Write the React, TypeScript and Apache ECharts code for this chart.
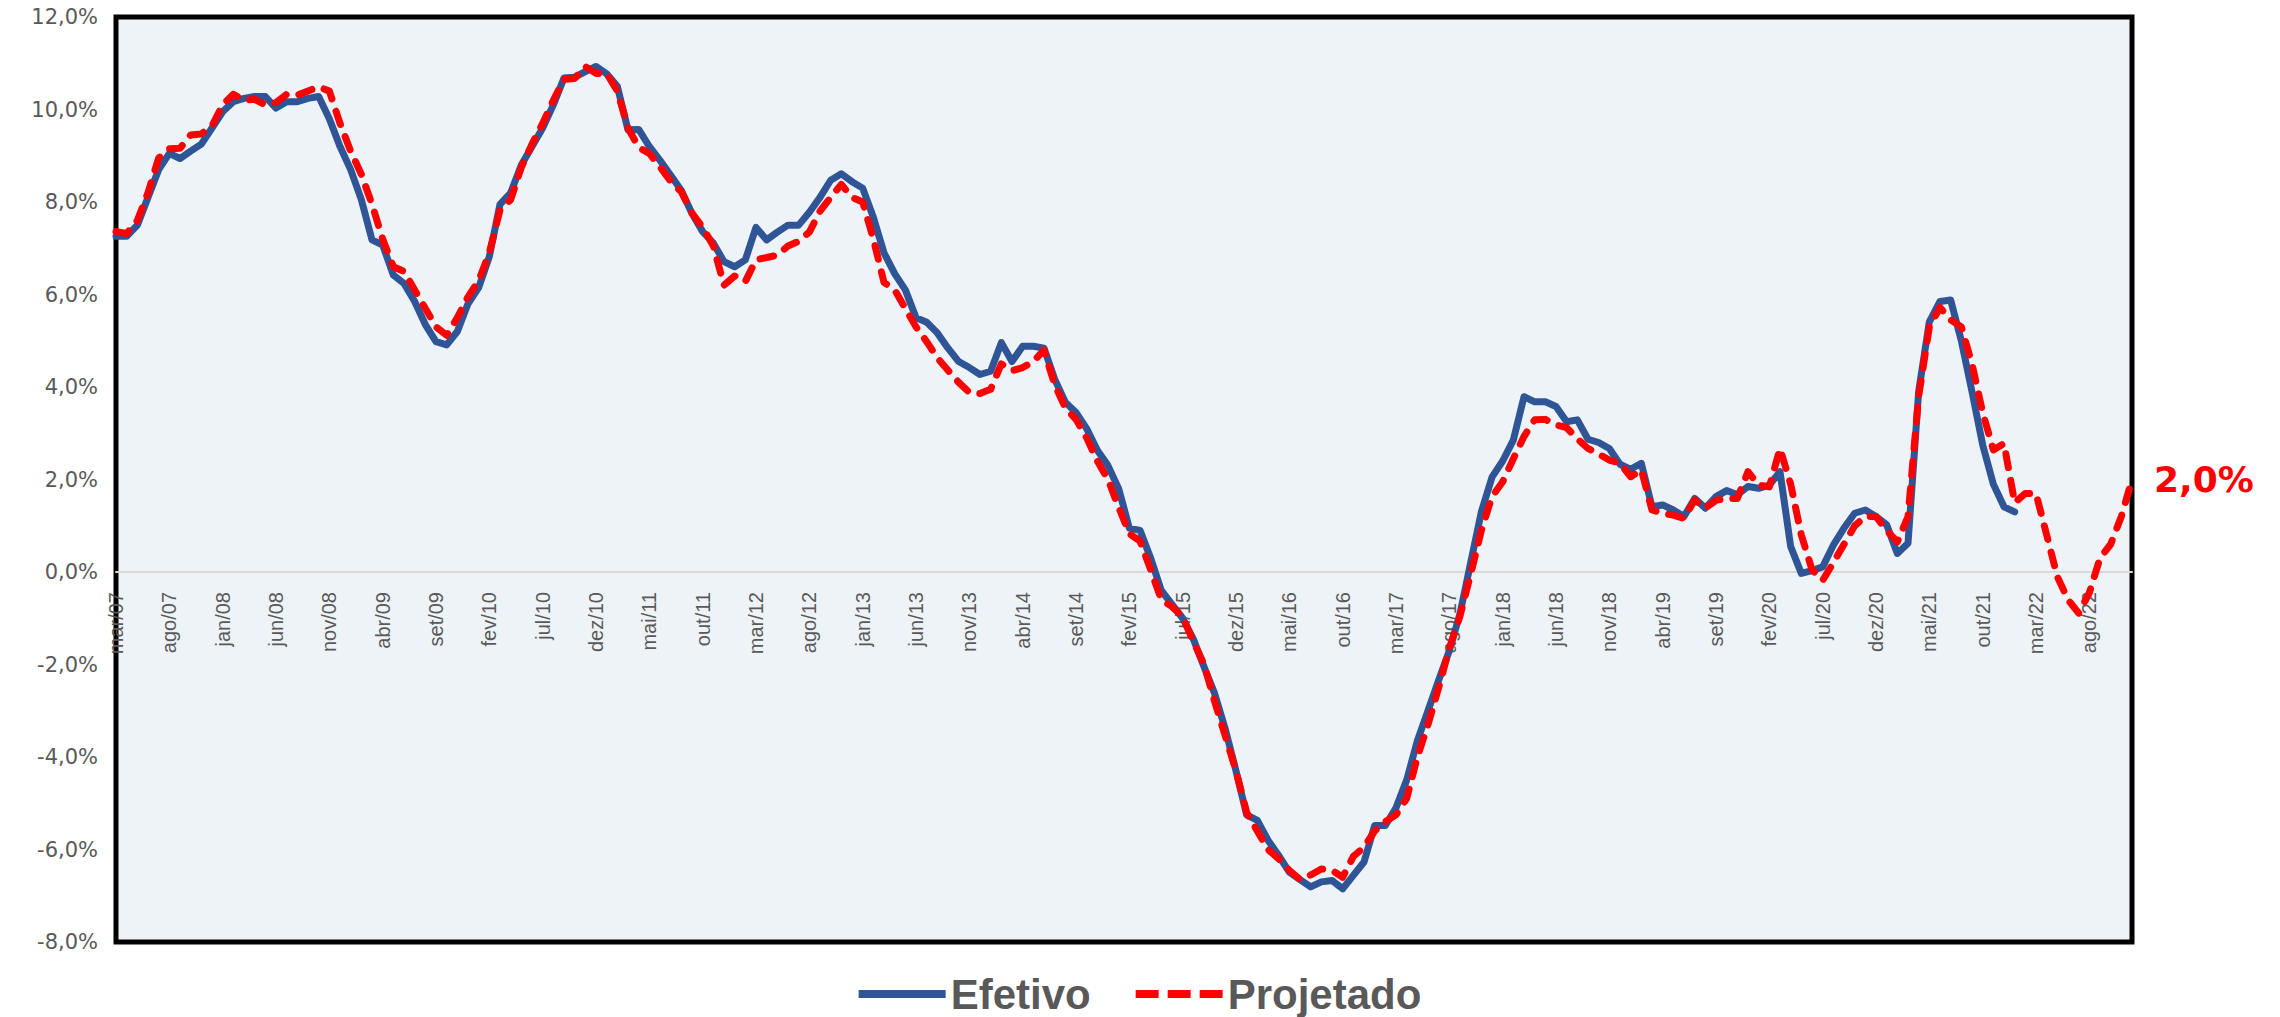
import React, { useEffect, useRef } from "react";
import * as echarts from "echarts";

// Month names (pt-BR) and period: mar/07 .. dez/22
const MONTHS = ["jan", "fev", "mar", "abr", "mai", "jun", "jul", "ago", "set", "out", "nov", "dez"];
const START_YEAR = 2007;
const START_MONTH = 2; // mar
const N_MONTHS = 190;

const categories: string[] = [];
for (let k = 0; k < N_MONTHS; k++) {
  const m = (START_MONTH + k) % 12;
  const y = START_YEAR + Math.floor((START_MONTH + k) / 12);
  categories.push(`${MONTHS[m]}/${String(y % 100).padStart(2, "0")}`);
}

// Efetivo (mar/07 .. jan/22)
const efetivo: number[] = [
  7.26, 7.26, 7.5, 8.1, 8.7, 9.05, 8.94, 9.1, 9.25, 9.6,
  9.95, 10.17, 10.24, 10.28, 10.28, 10.03, 10.17, 10.17, 10.24, 10.28,
  9.8, 9.2, 8.7, 8.05, 7.18, 7.07, 6.42, 6.24, 5.85, 5.35,
  4.98, 4.91, 5.2, 5.8, 6.15, 6.82, 7.95, 8.2, 8.8, 9.2,
  9.6, 10.1, 10.68, 10.7, 10.82, 10.93, 10.77, 10.5, 9.56, 9.57,
  9.2, 8.9, 8.58, 8.25, 7.75, 7.36, 7.11, 6.71, 6.6, 6.75,
  7.45, 7.18, 7.35, 7.5, 7.5, 7.78, 8.1, 8.47, 8.61, 8.44,
  8.3, 7.67, 6.9, 6.45, 6.1, 5.5, 5.4, 5.17, 4.84, 4.55,
  4.42, 4.27, 4.34, 4.96, 4.55, 4.88, 4.88, 4.84, 4.17, 3.67,
  3.45, 3.1, 2.63, 2.3, 1.8, 0.95, 0.9, 0.3, -0.4, -0.7,
  -1.0, -1.45, -2.05, -2.63, -3.4, -4.3, -5.25, -5.37, -5.8, -6.13,
  -6.49, -6.65, -6.81, -6.7, -6.67, -6.85, -6.56, -6.27, -5.48, -5.48,
  -5.1, -4.5, -3.65, -3.0, -2.34, -1.7, -0.9, 0.2, 1.3, 2.05,
  2.4, 2.85, 3.79, 3.68, 3.68, 3.58, 3.25, 3.29, 2.87, 2.8,
  2.67, 2.33, 2.22, 2.35, 1.41, 1.45, 1.34, 1.2, 1.59, 1.38,
  1.63, 1.76, 1.67, 1.85, 1.81, 1.88, 2.17, 0.55, -0.03, 0.03,
  0.11, 0.58, 0.95, 1.27, 1.34, 1.2, 1.02, 0.4, 0.62, 3.9,
  5.41, 5.85, 5.88, 5.0, 3.9, 2.75, 1.9, 1.41, 1.3,
];

// Projetado (mar/07 .. dez/22)
const projetado: number[] = [
  7.36, 7.32, 7.6, 8.2, 8.95, 9.15, 9.16, 9.45, 9.47, 9.65,
  10.1, 10.33, 10.2, 10.22, 10.1, 10.15, 10.33, 10.31, 10.4, 10.49,
  10.4, 9.7, 9.1, 8.6, 7.95, 7.2, 6.6, 6.5, 6.1, 5.7,
  5.3, 5.12, 5.5, 5.95, 6.3, 6.9, 7.83, 8.05, 8.75, 9.25,
  9.7, 10.2, 10.65, 10.67, 10.93, 10.78, 10.78, 10.4, 9.6, 9.18,
  9.05, 8.76, 8.45, 8.22, 7.76, 7.45, 7.05, 6.2, 6.4, 6.28,
  6.75, 6.8, 6.85, 7.05, 7.15, 7.35, 7.8, 8.1, 8.38, 8.1,
  8.0, 7.2, 6.26, 6.1, 5.7, 5.3, 4.98, 4.63, 4.36, 4.1,
  3.88, 3.86, 3.95, 4.5, 4.35, 4.42, 4.55, 4.8, 4.05, 3.55,
  3.3, 2.9, 2.4, 2.0, 1.4, 0.83, 0.67, 0.05, -0.6, -0.75,
  -0.97, -1.5, -2.0, -2.8, -3.55, -4.3, -5.2, -5.6, -6.0, -6.2,
  -6.45, -6.65, -6.55, -6.42, -6.45, -6.6, -6.15, -5.95, -5.6, -5.4,
  -5.25, -4.9, -4.0, -3.3, -2.5, -1.65, -0.95, -0.05, 0.9, 1.63,
  1.95, 2.45, 2.93, 3.29, 3.3, 3.18, 3.12, 2.88, 2.67, 2.55,
  2.42, 2.35, 2.06, 2.21, 1.34, 1.27, 1.23, 1.16, 1.56, 1.38,
  1.55, 1.59, 1.59, 2.17, 1.88, 1.84, 2.67, 1.9, 0.8, 0.05,
  -0.18, 0.2, 0.6, 1.0, 1.2, 1.2, 0.9, 0.65, 1.2, 3.8,
  5.3, 5.72, 5.45, 5.3, 4.5, 3.45, 2.64, 2.78, 1.5, 1.7,
  1.7, 0.8, -0.1, -0.6, -0.89, -0.45, 0.3, 0.6, 1.2, 2.0,
];

const Y_MIN = -8;
const Y_MAX = 12;
const Y_STEP = 2;

const W = 2280;
const H = 1017;
const GRID_TOP = 17;
const GRID_BOTTOM = 75;
const GRID_H = H - GRID_TOP - GRID_BOTTOM;
// place the category axis on the 0 line
const ZERO_OFFSET = -GRID_H * ((0 - Y_MIN) / (Y_MAX - Y_MIN));

const fmtPct = (v: number) => v.toFixed(1).replace(".", ",") + "%";

export default function App() {
  const ref = useRef<HTMLDivElement>(null);

  useEffect(() => {
    if (!ref.current) return;
    const chart = echarts.init(ref.current, undefined, { renderer: "svg" });
    chart.setOption({
      animation: false,
      backgroundColor: "#ffffff",
      grid: {
        left: 116,
        right: 148,
        top: GRID_TOP,
        bottom: GRID_BOTTOM,
        show: true,
        backgroundColor: "#EEF3F8",
        borderColor: "#000000",
        borderWidth: 5,
        outerBoundsMode: "none",
        containLabel: false,
      },
      legend: {
        top: 973,
        left: "center",
        padding: 0,
        itemWidth: 87,
        itemHeight: 8,
        itemGap: 45,
        data: [
          { name: "Efetivo", icon: "path://M0,0H87V8H0Z" },
          { name: "Projetado", icon: "path://M0,0H23V8H0Z M32,0H55V8H32Z M64,0H87V8H64Z" },
        ],
        textStyle: {
          fontFamily: "Liberation Sans",
          fontWeight: "bold",
          fontSize: 42,
          lineHeight: 42,
          color: "#595959",
        },
      },
      xAxis: {
        type: "category",
        data: categories,
        boundaryGap: false,
        position: "bottom",
        offset: ZERO_OFFSET,
        axisLine: { show: true, onZero: false, lineStyle: { color: "#D9D9D9", width: 2 } },
        axisTick: { show: false },
        axisLabel: {
          interval: 4,
          rotate: 90,
          margin: 20,
          fontSize: 20,
          fontFamily: "Liberation Sans",
          color: "#595959",
        },
        splitLine: { show: false },
      },
      yAxis: {
        type: "value",
        min: Y_MIN,
        max: Y_MAX,
        interval: Y_STEP,
        axisLine: { show: false },
        axisTick: { show: false },
        splitLine: { show: false },
        axisLabel: {
          formatter: (v: number) => fmtPct(v),
          fontSize: 21,
          fontFamily: "DejaVu Sans",
          color: "#595959",
          margin: 18,
        },
      },
      series: [
        {
          name: "Efetivo",
          type: "line",
          data: efetivo,
          symbol: "none",
          lineStyle: { color: "#2F5597", width: 7, join: "round", cap: "round" },
          itemStyle: { color: "#2F5597" },
          z: 2,
        },
        {
          name: "Projetado",
          type: "line",
          data: projetado,
          symbol: "none",
          lineStyle: {
            color: "#FF0000",
            width: 7,
            type: [14, 13],
            cap: "round",
            join: "round",
          },
          itemStyle: { color: "#FF0000" },
          z: 3,
          endLabel: {
            show: true,
            distance: 22,
            formatter: (p: any) => fmtPct(Number(p.value)),
            color: "#FF0000",
            fontFamily: "DejaVu Sans",
            fontWeight: "bold",
            fontSize: 36,
          },
        },
      ],
    });
    return () => chart.dispose();
  }, []);

  return (
    <div
      ref={ref}
      style={{ position: "fixed", left: 0, top: 0, width: W, height: H, background: "#fff" }}
    />
  );
}
